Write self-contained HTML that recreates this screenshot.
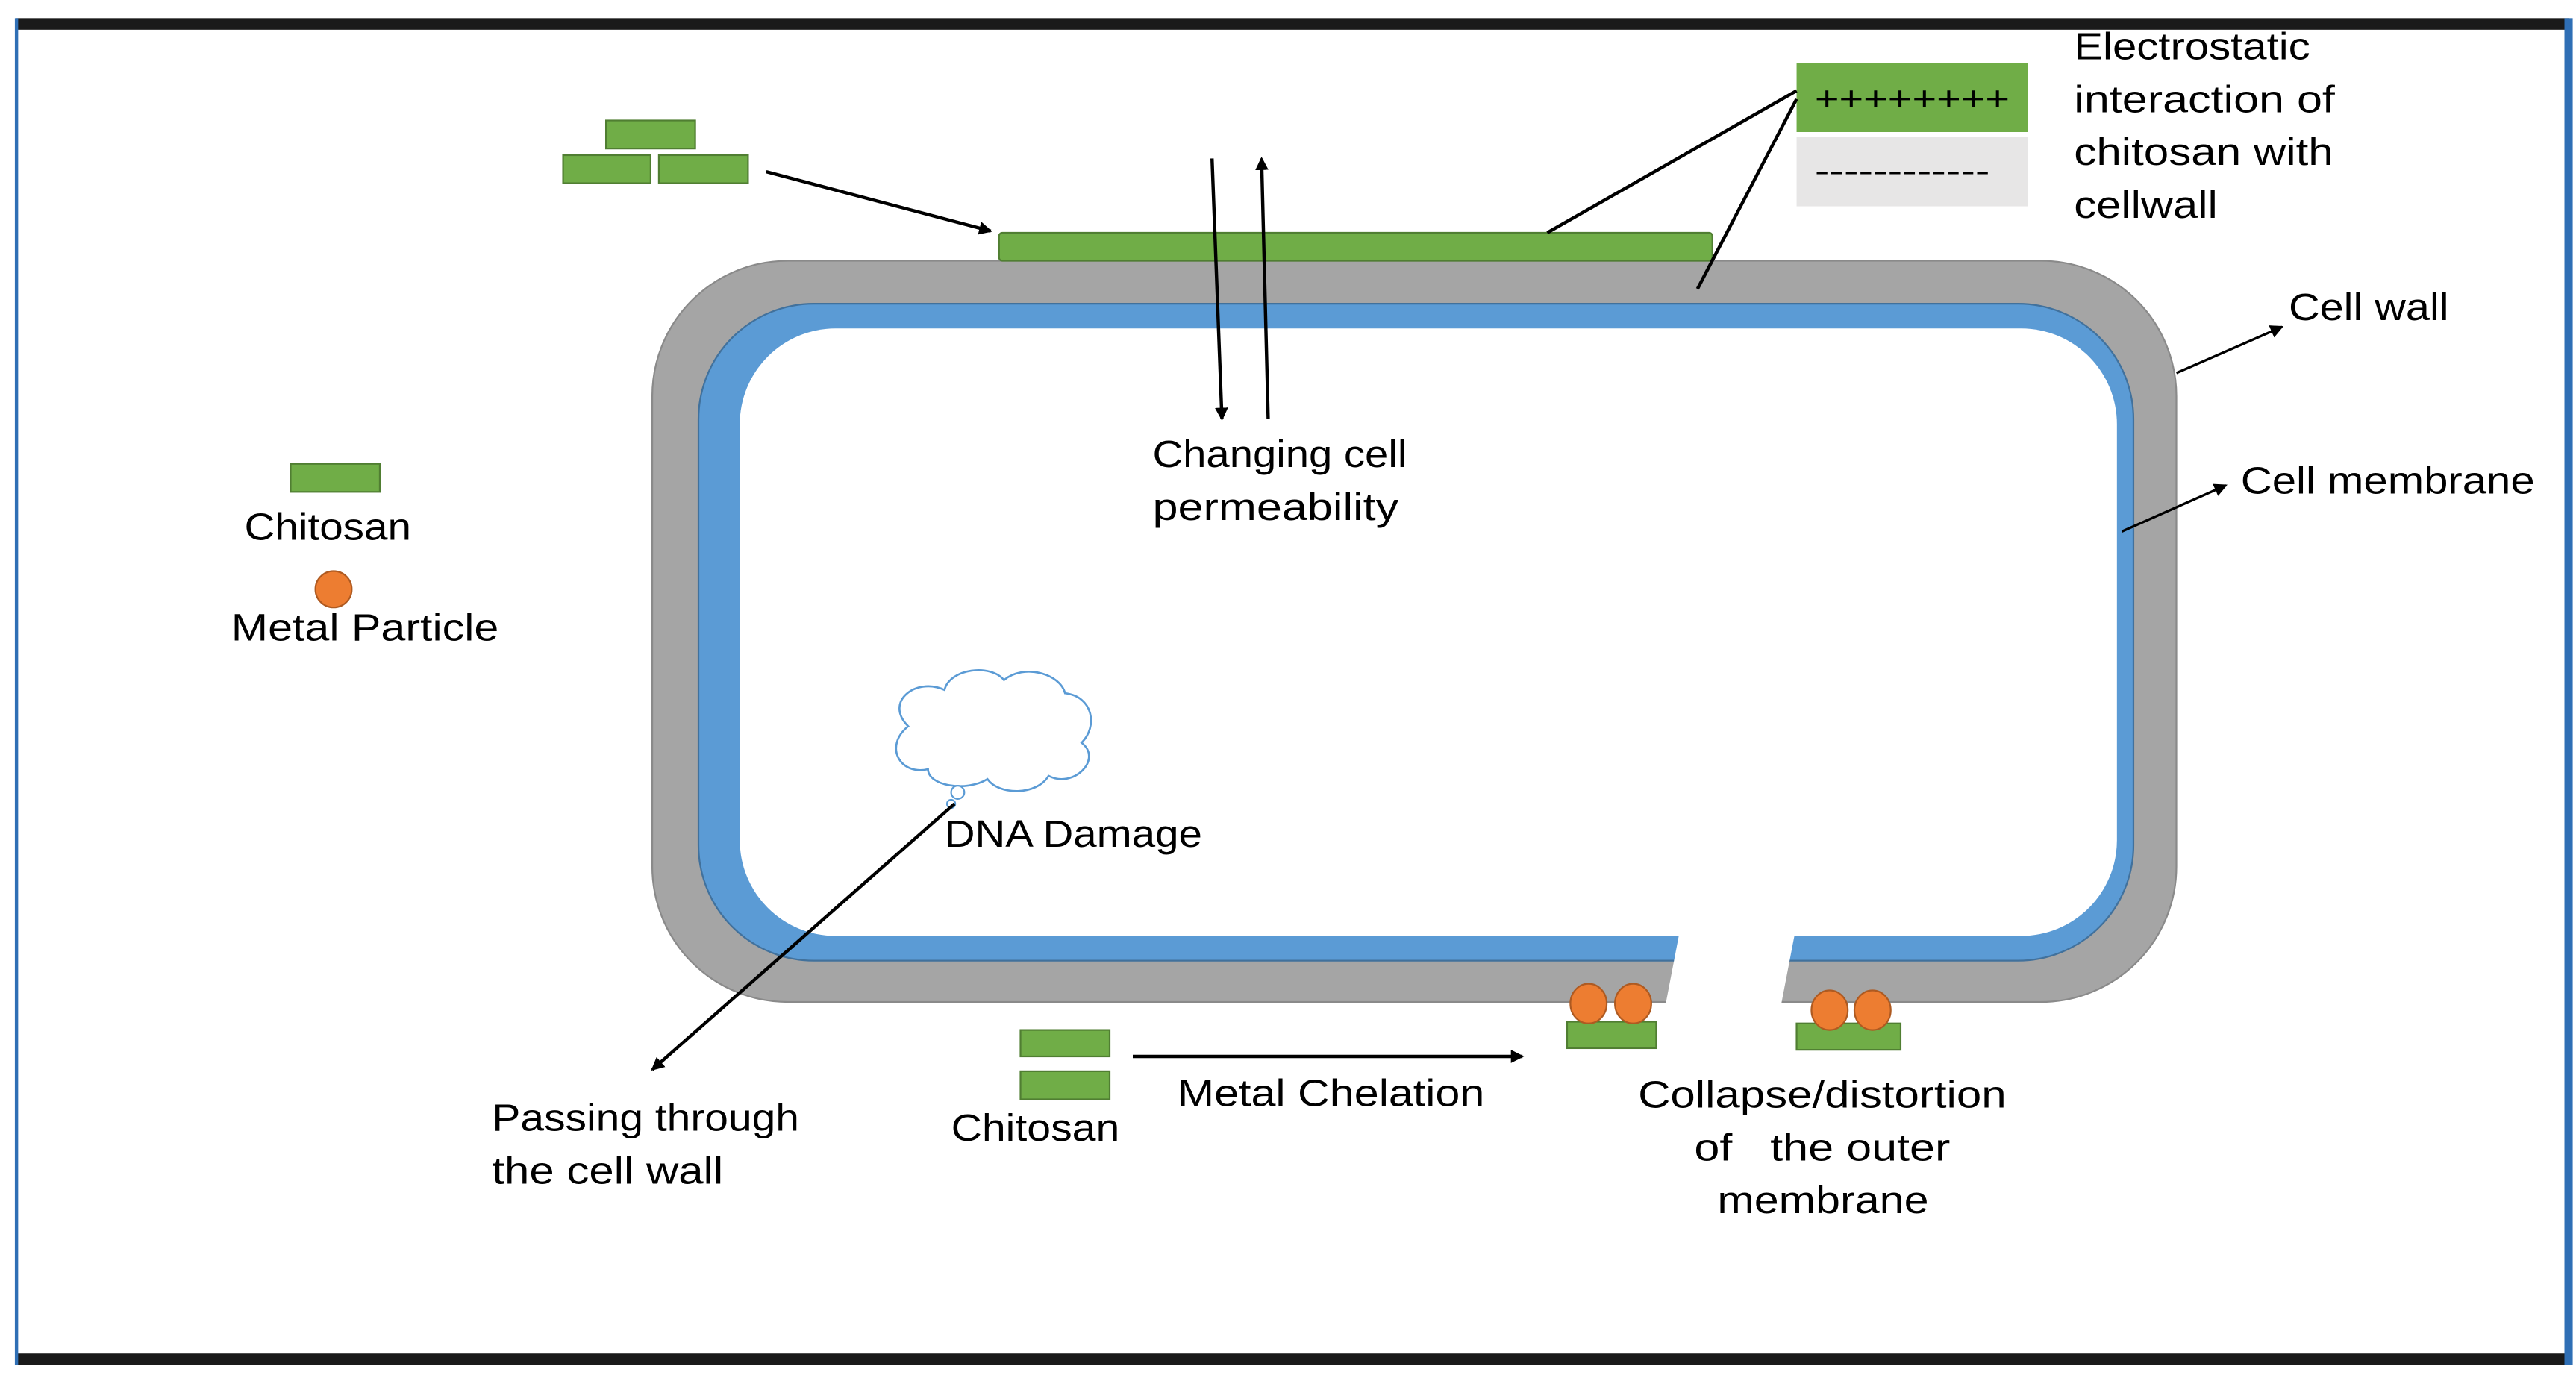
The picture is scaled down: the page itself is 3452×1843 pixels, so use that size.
<!DOCTYPE html>
<html><head><meta charset="utf-8"><style>html,body{margin:0;padding:0;background:#fff}svg{display:block}</style></head>
<body>
<svg width="3452" height="1843" viewBox="0 0 1560 833" preserveAspectRatio="none" xmlns="http://www.w3.org/2000/svg">
<defs><marker id="a" markerWidth="8" markerHeight="8" refX="7" refY="4" orient="auto" markerUnits="userSpaceOnUse"><path d="M0,0 L8,4 L0,8 z" fill="#000"/></marker></defs>
<rect width="1560" height="833" fill="#fff"/>
<rect x="10" y="11" width="1546" height="7" fill="#1a1a1a"/>
<rect x="10" y="820" width="1546" height="7" fill="#1a1a1a"/>
<rect x="9" y="11" width="2" height="816" fill="#2f6fb5"/>
<rect x="1553" y="11" width="5" height="816" fill="#2f6fb5"/>
<g font-family="'Liberation Sans', sans-serif" font-size="23" fill="#000" lengthAdjust="spacingAndGlyphs">
<rect x="395" y="158" width="923" height="449" rx="82" fill="#a5a5a5" stroke="#8a8a8a" stroke-width="1"/>
<rect x="423" y="184" width="869" height="398" rx="70" fill="#5b9bd5" stroke="#41719c" stroke-width="1"/>
<rect x="448" y="199" width="834" height="368" rx="58" fill="#fff"/>
<polygon points="1018,560 1088,560 1078,612 1008,612" fill="#fff"/>
<rect x="605" y="141" width="432" height="17" rx="2" fill="#70ad47" stroke="#507e32" stroke-width="1"/>
<rect x="1088" y="38" width="140" height="42" fill="#70ad47"/>
<rect x="1088" y="83" width="140" height="42" fill="#e7e6e6"/>
<text x="1099" y="67" font-size="21" textLength="118" lengthAdjust="spacingAndGlyphs">++++++++</text>
<text x="1099" y="110" font-size="20" textLength="106" lengthAdjust="spacingAndGlyphs">------------</text>
<line x1="1088" y1="55" x2="937" y2="141" stroke="#000" stroke-width="2"/>
<line x1="1088" y1="60" x2="1028" y2="175" stroke="#000" stroke-width="2"/>
<text x="1256" y="36" textLength="143" lengthAdjust="spacingAndGlyphs">Electrostatic</text>
<text x="1256" y="68" textLength="158" lengthAdjust="spacingAndGlyphs">interaction of</text>
<text x="1256" y="100" textLength="157" lengthAdjust="spacingAndGlyphs">chitosan with</text>
<text x="1256" y="132" textLength="87" lengthAdjust="spacingAndGlyphs">cellwall</text>
<rect x="367" y="73" width="54" height="17" fill="#70ad47" stroke="#507e32"/>
<rect x="341" y="94" width="53" height="17" fill="#70ad47" stroke="#507e32"/>
<rect x="399" y="94" width="54" height="17" fill="#70ad47" stroke="#507e32"/>
<line x1="464" y1="104" x2="600" y2="140" stroke="#000" stroke-width="2" marker-end="url(#a)"/>
<line x1="734" y1="96" x2="740" y2="254" stroke="#000" stroke-width="2" marker-end="url(#a)"/>
<line x1="768" y1="254" x2="764" y2="96" stroke="#000" stroke-width="2" marker-end="url(#a)"/>
<text x="698" y="283" textLength="154" lengthAdjust="spacingAndGlyphs">Changing cell</text>
<text x="698" y="315" textLength="149" lengthAdjust="spacingAndGlyphs">permeability</text>
<rect x="176" y="281" width="54" height="17" fill="#70ad47" stroke="#507e32"/>
<text x="148" y="327" textLength="101" lengthAdjust="spacingAndGlyphs">Chitosan</text>
<circle cx="202" cy="357" r="11" fill="#ed7d31" stroke="#ae5a21"/>
<text x="140" y="388" textLength="162" lengthAdjust="spacingAndGlyphs">Metal Particle</text>
<line x1="1318" y1="226" x2="1382" y2="198" stroke="#000" stroke-width="1.5" marker-end="url(#a)"/>
<text x="1386" y="194" textLength="97" lengthAdjust="spacingAndGlyphs">Cell wall</text>
<line x1="1285" y1="322" x2="1348" y2="294" stroke="#000" stroke-width="1.5" marker-end="url(#a)"/>
<text x="1357" y="299" textLength="178" lengthAdjust="spacingAndGlyphs">Cell membrane</text>
<path d="M550,440 C535,425 555,410 572,418 C575,405 600,402 608,412 C620,402 642,408 645,420 C662,422 665,440 655,450 C668,460 650,478 635,470 C628,482 605,482 598,472 C585,480 562,476 562,466 C545,470 535,452 550,440 Z" fill="#fff" stroke="#5b9bd5" stroke-width="1.2"/>
<circle cx="580" cy="480" r="4" fill="#fff" stroke="#5b9bd5"/>
<circle cx="576" cy="487" r="2.5" fill="#fff" stroke="#5b9bd5"/>
<text x="572" y="513" textLength="156" lengthAdjust="spacingAndGlyphs">DNA Damage</text>
<line x1="578" y1="487" x2="395" y2="648" stroke="#000" stroke-width="2" marker-end="url(#a)"/>
<text x="298" y="685" textLength="186" lengthAdjust="spacingAndGlyphs">Passing through</text>
<text x="298" y="717" textLength="140" lengthAdjust="spacingAndGlyphs">the cell wall</text>
<rect x="618" y="624" width="54" height="16" fill="#70ad47" stroke="#507e32"/>
<rect x="618" y="649" width="54" height="17" fill="#70ad47" stroke="#507e32"/>
<text x="576" y="691" textLength="102" lengthAdjust="spacingAndGlyphs">Chitosan</text>
<line x1="686" y1="640" x2="922" y2="640" stroke="#000" stroke-width="2" marker-end="url(#a)"/>
<text x="713" y="670" textLength="186" lengthAdjust="spacingAndGlyphs">Metal Chelation</text>
<rect x="949" y="619" width="54" height="16" fill="#70ad47" stroke="#507e32"/>
<ellipse cx="962" cy="608" rx="11" ry="12" fill="#ed7d31" stroke="#ae5a21"/>
<ellipse cx="989" cy="608" rx="11" ry="12" fill="#ed7d31" stroke="#ae5a21"/>
<rect x="1088" y="620" width="63" height="16" fill="#70ad47" stroke="#507e32"/>
<ellipse cx="1108" cy="612" rx="11" ry="12" fill="#ed7d31" stroke="#ae5a21"/>
<ellipse cx="1134" cy="612" rx="11" ry="12" fill="#ed7d31" stroke="#ae5a21"/>
<text x="992" y="671" textLength="223" lengthAdjust="spacingAndGlyphs">Collapse/distortion</text>
<text x="1026" y="703" textLength="155" lengthAdjust="spacingAndGlyphs" xml:space="preserve">of   the outer</text>
<text x="1040" y="735" textLength="128" lengthAdjust="spacingAndGlyphs">membrane</text>
</g>
</svg>
</body></html>
